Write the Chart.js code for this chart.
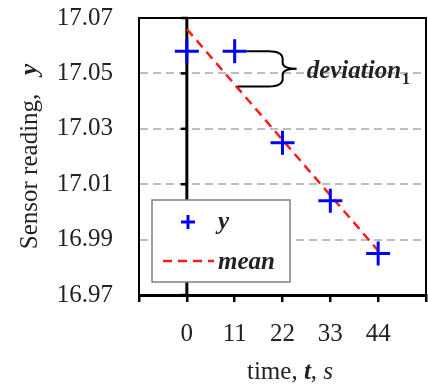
<!DOCTYPE html>
<html>
<head>
<meta charset="utf-8">
<script src="https://cdn.jsdelivr.net/npm/chart.js@4.4.1/dist/chart.umd.min.js"></script>
<style>
  html, body { margin: 0; padding: 0; background: #fff; }
  #wrap { width: 428px; height: 387px; }
</style>
</head>
<body>
<div id="wrap"><canvas id="chart" width="428" height="387"></canvas></div>
<script>
// values
const times = [0, 11, 22, 33, 44];
const readings = [17.058, 17.058, 17.025, 17.004, 16.985];
const meanTimes = [0, 44];
const meanValues = [17.066, 16.986];
const xTickMarks = [-11, 0, 11, 22, 33, 44, 55];
const xTickLabels = ['', '0', '11', '22', '33', '44', ''];
const yTickValues = [16.97, 16.99, 17.01, 17.03, 17.05, 17.07];

const serif = '"Liberation Serif", "Times New Roman", serif';
const textColor = '#222';
const blue = '#0000ff';
const red = '#ff1a1a';

// draw text made of runs with different fonts, starting at x
function drawRuns(ctx, runs, x, y) {
  runs.forEach(r => {
    ctx.font = r.font;
    ctx.fillText(r.text, x, y);
    x += ctx.measureText(r.text).width;
  });
}
function runsWidth(ctx, runs) {
  let w = 0;
  runs.forEach(r => { ctx.font = r.font; w += ctx.measureText(r.text).width; });
  return w;
}

const decorations = {
  id: 'decorations',
  beforeDatasetsDraw(chart) {
    const {ctx, chartArea: a, scales: {x, y}} = chart;
    ctx.save();
    ctx.strokeStyle = '#000';
    // top and right frame
    ctx.lineWidth = 2;
    ctx.beginPath();
    ctx.moveTo(a.left, a.top);
    ctx.lineTo(a.right, a.top);
    ctx.lineTo(a.right, a.bottom);
    ctx.stroke();
    // vertical axis through t = 0 with its ticks
    const x0 = x.getPixelForValue(0);
    ctx.lineWidth = 3;
    ctx.beginPath();
    ctx.moveTo(x0, a.top - 1);
    ctx.lineTo(x0, a.bottom);
    ctx.stroke();
    ctx.lineWidth = 2.5;
    yTickValues.forEach(v => {
      const py = y.getPixelForValue(v);
      ctx.beginPath();
      ctx.moveTo(x0 - 6, py);
      ctx.lineTo(x0 + 1, py);
      ctx.stroke();
    });
    ctx.restore();
  },
  afterDatasetsDraw(chart) {
    const {ctx, chartArea: a, scales: {x, y}} = chart;
    ctx.save();

    // deviation annotation
    const px = x.getPixelForValue(times[1]);
    const yTop = y.getPixelForValue(readings[1]);
    const meanAt11 = meanValues[0] + (meanValues[1] - meanValues[0]) * (times[1] - meanTimes[0]) / (meanTimes[1] - meanTimes[0]);
    const yBot = y.getPixelForValue(meanAt11) + 2;
    const yMid = (yTop + yBot) / 2;
    const xL = px + 34, xM = xL + 14, xTip = xM + 14;
    ctx.strokeStyle = '#000';
    ctx.lineWidth = 2;
    ctx.beginPath();
    ctx.moveTo(px + 12, yTop);
    ctx.lineTo(xL, yTop);
    ctx.quadraticCurveTo(xM, yTop, xM, yTop + 8);
    ctx.lineTo(xM, yMid - 6);
    ctx.quadraticCurveTo(xM, yMid, xTip, yMid);
    ctx.moveTo(px + 3, yBot);
    ctx.lineTo(xL, yBot);
    ctx.quadraticCurveTo(xM, yBot, xM, yBot - 8);
    ctx.lineTo(xM, yMid + 6);
    ctx.quadraticCurveTo(xM, yMid, xTip, yMid);
    ctx.stroke();
    ctx.fillStyle = textColor;
    ctx.textBaseline = 'alphabetic';
    ctx.textAlign = 'left';
    ctx.font = 'italic bold 25px ' + serif;
    ctx.fillText('deviation', xTip + 10, yMid + 9);
    const dw = ctx.measureText('deviation').width;
    ctx.font = 'bold 16px ' + serif;
    ctx.fillText('1', xTip + 10 + dw + 1, yMid + 15);

    // legend box
    const bx = a.left + 13, by = a.bottom - 95, bw = 138, bh = 82;
    ctx.fillStyle = '#fff';
    ctx.fillRect(bx, by, bw, bh);
    ctx.strokeStyle = '#808080';
    ctx.lineWidth = 1.5;
    ctx.strokeRect(bx, by, bw, bh);
    // cross entry
    const c1 = by + 22;
    ctx.strokeStyle = blue;
    ctx.lineWidth = 3;
    ctx.beginPath();
    ctx.moveTo(bx + 29, c1); ctx.lineTo(bx + 43, c1);
    ctx.moveTo(bx + 36, c1 - 7); ctx.lineTo(bx + 36, c1 + 7);
    ctx.stroke();
    // dashed mean entry
    const c2 = by + 61;
    ctx.strokeStyle = red;
    ctx.lineWidth = 2.5;
    ctx.setLineDash([9, 6]);
    ctx.beginPath();
    ctx.moveTo(bx + 11, c2); ctx.lineTo(bx + 62, c2);
    ctx.stroke();
    ctx.setLineDash([]);
    ctx.fillStyle = textColor;
    ctx.font = 'italic bold 25px ' + serif;
    ctx.fillText('y', bx + 66, c1 + 7);
    ctx.fillText('mean', bx + 66, c2 + 8);

    // axis titles with mixed fonts
    const reg = '25px ' + serif;
    const yRuns = [
      {text: 'Sensor reading,   ', font: reg},
      {text: 'y', font: 'italic bold 25px ' + serif}
    ];
    const yw = runsWidth(ctx, yRuns);
    ctx.save();
    ctx.translate(37, (a.top + a.bottom) / 2);
    ctx.rotate(-Math.PI / 2);
    drawRuns(ctx, yRuns, -yw / 2, 0);
    ctx.restore();

    const xRuns = [
      {text: 'time, ', font: reg},
      {text: 't', font: 'italic bold 25px ' + serif},
      {text: ', ', font: reg},
      {text: 's', font: 'italic 25px ' + serif}
    ];
    const xw = runsWidth(ctx, xRuns);
    drawRuns(ctx, xRuns, 290 - xw / 2, 379);

    ctx.restore();
  }
};

new Chart(document.getElementById('chart'), {
  type: 'scatter',
  data: {
    datasets: [
      {
        label: 'y',
        data: times.map((t, i) => ({x: t, y: readings[i]})),
        showLine: false,
        pointStyle: 'cross',
        pointRadius: 12,
        pointHoverRadius: 12,
        pointBorderWidth: 3,
        borderColor: blue,
        backgroundColor: blue
      },
      {
        label: 'mean',
        data: meanTimes.map((t, i) => ({x: t, y: meanValues[i]})),
        showLine: true,
        pointRadius: 0,
        borderColor: red,
        borderWidth: 2.5,
        borderDash: [9, 6]
      }
    ]
  },
  options: {
    responsive: false,
    animation: false,
    layout: {autoPadding: false, padding: {top: 18, right: 2, left: 0, bottom: 0}},
    plugins: {legend: {display: false}, tooltip: {enabled: false}},
    scales: {
      x: {
        type: 'linear',
        min: -11,
        max: 55,
        afterBuildTicks: s => { s.ticks = xTickMarks.map(v => ({value: v})); },
        afterFit: s => { s.height = 92; s.paddingLeft = 0; s.paddingRight = 0; },
        ticks: {
          autoSkip: false,
          maxRotation: 0,
          padding: 17,
          color: textColor,
          font: {family: serif, size: 25},
          callback: (v, i) => xTickLabels[i]
        },
        grid: {drawOnChartArea: false, drawTicks: true, tickLength: 7, color: '#000', lineWidth: 2.5},
        border: {display: true, color: '#000', width: 3}
      },
      y: {
        type: 'linear',
        min: 16.97,
        max: 17.07,
        afterBuildTicks: s => { s.ticks = yTickValues.map(v => ({value: v})); },
        afterFit: s => { s.width = 139; s.paddingTop = 0; s.paddingBottom = 0; },
        ticks: {
          padding: 26,
          color: textColor,
          font: {family: serif, size: 25},
          callback: v => v.toFixed(2)
        },
        grid: {
          drawTicks: false,
          lineWidth: 2,
          color: c => (c.index === 0 || c.index === yTickValues.length - 1) ? 'rgba(0,0,0,0)' : '#bdbdbd'
        },
        border: {display: true, color: '#000', width: 2, dash: [8, 5]}
      }
    }
  },
  plugins: [decorations]
});
</script>
</body>
</html>
